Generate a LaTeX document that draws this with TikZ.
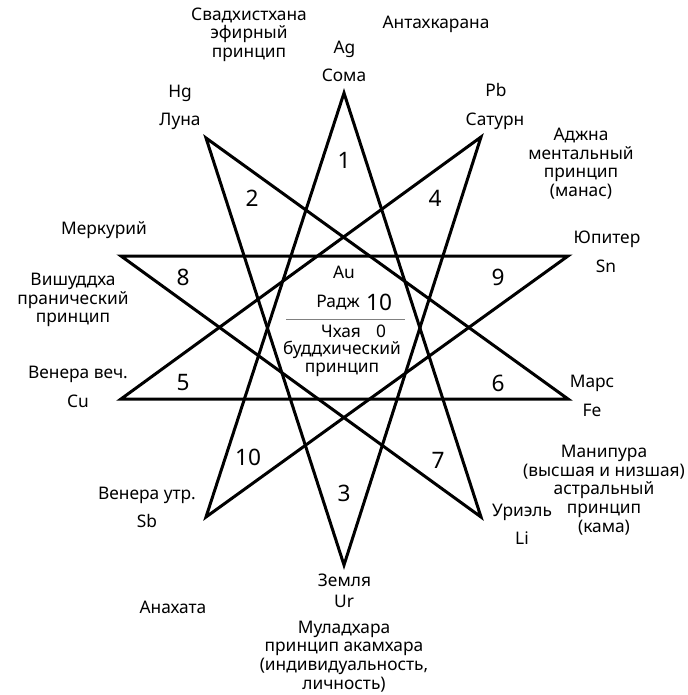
\documentclass[tikz,border=0pt]{standalone}
\usepackage{fontspec}
\setmainfont{Noto Sans}
\begin{document}
\begin{tikzpicture}[x=0.75pt,y=-0.75pt,
  lbl/.style={font=\fontsize{13}{14}\selectfont, align=center, inner sep=0pt},
  one/.style={lbl, text height=9.3pt, text depth=3.1pt},
  num/.style={font=\fontsize{17}{20}\selectfont, inner sep=0pt},
  starline/.style={line width=2.25pt, line join=miter}]
\useasboundingbox (0,0) rectangle (687,695);
% star vertices
\coordinate (T)  at (344,93);
\coordinate (UL) at (206,138);
\coordinate (UR) at (481,137);
\coordinate (LU) at (121,256);
\coordinate (RU) at (568,256);
\coordinate (LL) at (121,399);
\coordinate (RL) at (568,399);
\coordinate (BL) at (206,517);
\coordinate (BR) at (481,517);
\coordinate (B)  at (344,565);
\draw[starline] (T) -- (BL) -- (RU) -- (LU) -- (BR) -- cycle;
\draw[starline] (B) -- (UL) -- (RL) -- (LL) -- (UR) -- cycle;
% numbers
\node[num] (n1) at (344,160) {1};
\node[num] (n2) at (252,198) {2};
\node[num] (n4) at (435,198) {4};
\node[num] (n8) at (183,277) {8};
\node[num] (n9) at (498,277) {9};
\node[num] (n5) at (183,383) {5};
\node[num] (n6) at (498,383) {6};
\node[num] (n10) at (248,457) {10};
\node[num] (n7) at (438,460) {7};
\node[num] (n3) at (344,493) {3};
% centre
\node[one] (au) at (344,274) {Au};
\node[one] (radzh) at (338,303) {Радж};
\node[num] (ten) at (379,302) {10};
\coordinate (hl) at (286,319.5);
\coordinate (hr) at (405,319.5);
\draw[gray, line width=1pt] (hl) -- (hr);
\node[one] (chh) at (341,333) {Чхая};
\node[one] (zero) at (381,333) {0};
\node[lbl] (budd) at (342,359) {буддхический\\принцип};
% outer labels
\node[lbl] (svad) at (249,34.5) {Свадхистхана\\эфирный\\принцип};
\node[one] (antah) at (436,24) {Антахкарана};
\node[one] (ag) at (344.5,49) {Ag};
\node[one] (soma) at (344,77) {Сома};
\node[one] (hg) at (180,93) {Hg};
\node[one] (luna) at (180,121) {Луна};
\node[one] (pb) at (496,92) {Pb};
\node[one] (saturn) at (495,121) {Сатурн};
\node[lbl] (adzhna) at (581,163.5) {Аджна\\ментальный\\принцип\\(манас)};
\node[one] (jup) at (607,239) {Юпитер};
\node[one] (sn) at (606,268) {Sn};
\node[one] (merc) at (104,230) {Меркурий};
\node[lbl] (vish) at (73,300) {Вишуддха\\пранический\\принцип};
\node[one] (venv) at (78,374) {Венера веч.};
\node[one] (cu) at (78,403) {Cu};
\node[one] (mars) at (592,383) {Марс};
\node[one] (fe) at (592,412) {Fe};
\node[lbl] (manip) at (604,490) {Манипура\\(высшая и низшая)\\астральный\\принцип\\(кама)};
\node[one] (uriel) at (522,512) {Уриэль};
\node[one] (li) at (522,540) {Li};
\node[one] (venu) at (147,495) {Венера утр.};
\node[one] (sb) at (147,523) {Sb};
\node[one] (anah) at (173,609) {Анахата};
\node[one] (zemlya) at (344.5,582) {Земля};
\node[one] (ur) at (344,603) {Ur};
\node[lbl] (mulad) at (344,656.5) {Муладхара\\принцип акамхара\\(индивидуальность,\\личность)};
\end{tikzpicture}
\end{document}
